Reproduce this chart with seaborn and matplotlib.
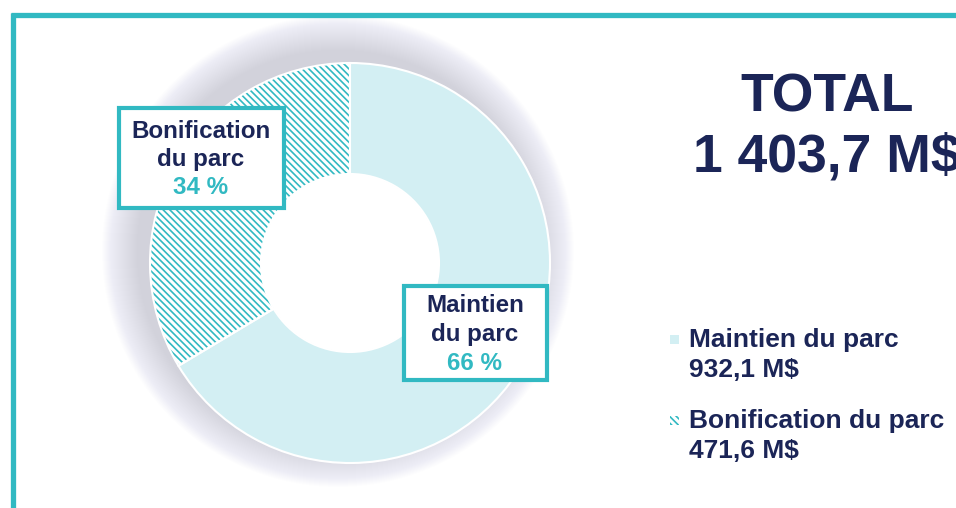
import matplotlib.pyplot as plt
import matplotlib.patches as mpatches
import seaborn as sns

# data
segments = ['Maintien du parc', 'Bonification du parc']
amounts = [932.1, 471.6]          # M$
box_lines = [['Maintien', 'du parc'], ['Bonification', 'du parc']]

TEAL = '#31B9C2'
LIGHT = '#D3EFF3'
NAVY = '#1B2557'
HATCH = '\\' * 5

sns.set_theme(style='white')
plt.rcParams['font.family'] = ['Liberation Sans', 'DejaVu Sans']
plt.rcParams['hatch.linewidth'] = 1.2


def fr(v):
    s = f"{v:,.1f}"
    return s.replace(',', ' ').replace('.', ',')


total = sum(amounts)
pcts = [round(a / total * 100) for a in amounts]

fig = plt.figure(figsize=(9.56, 5.08), dpi=100)
ax = fig.add_axes([0, 0, 1, 1])

cx, cy, R, r = 350, 263, 200, 89

# soft shadow, pushed towards upper left
for i in range(36):
    ax.add_patch(mpatches.Circle((cx - 12, cy - 12), R + 36 - i, color='#6E6E9A',
                                 alpha=0.006, lw=0, zorder=1))
ax.add_patch(mpatches.Circle((cx, cy), r, color='white', lw=0, zorder=1.5))

# donut (y axis inverted -> counterclock=True draws clockwise on screen)
wedges, _ = ax.pie(amounts, startangle=-90, counterclock=True, center=(cx, cy),
                   radius=R, colors=[LIGHT, 'white'],
                   wedgeprops=dict(width=R - r, linewidth=0), frame=True)
for w in wedges:
    w.set_zorder(2)
wedges[1].set_hatch(HATCH)
wedges[1].set_edgecolor(TEAL)
outl, _ = ax.pie(amounts, startangle=-90, counterclock=True, center=(cx, cy),
                 radius=R, colors=['none', 'none'],
                 wedgeprops=dict(width=R - r, linewidth=1.5, edgecolor='white'),
                 frame=True)
for w in outl:
    w.set_zorder(3)
ax.set_xlim(0, 956)
ax.set_ylim(508, 0)
ax.axis('off')

# frame lines
ax.plot([11, 956], [15, 15], color=TEAL, lw=3.8, solid_capstyle='butt', zorder=5)
ax.plot([13.5, 13.5], [13, 508], color=TEAL, lw=3.8, solid_capstyle='butt', zorder=5)

# label boxes
boxes = [(402, 284, 147, 98, 475, 306), (117, 106, 169, 104, 201, 131)]
for (x0, y0, bw, bh, tx, ty), lines, p in zip(boxes, box_lines, pcts):
    ax.add_patch(mpatches.Rectangle((x0 + 2, y0 + 2), bw - 4, bh - 4, facecolor='white',
                                    edgecolor=TEAL, lw=3, zorder=6))
    for k, line in enumerate(lines):
        ax.text(tx, ty + 28.5 * k, line, ha='center', va='center', fontsize=17.4,
                fontweight='bold', color=NAVY, zorder=7)
    ax.text(tx, ty + 57, f"{p} %", ha='center', va='center', fontsize=17.4,
            fontweight='bold', color=TEAL, zorder=7)

# total (the amount runs off the right edge, as in the original slide)
ax.text(827, 97, 'TOTAL', ha='center', va='center', fontsize=38.5, fontweight='bold',
        color=NAVY)
ax.text(827, 158, f"{fr(total)} M$", ha='center', va='center', fontsize=38.5,
        fontweight='bold', color=NAVY, clip_on=False)

# legend
leg_y = [340, 421]
for i, (name, amt, y) in enumerate(zip(segments, amounts, leg_y)):
    sq = mpatches.Rectangle((670, y - 5), 9, 9, facecolor=LIGHT if i == 0 else 'white',
                            edgecolor=TEAL if i == 1 else 'none', lw=0,
                            hatch=HATCH if i == 1 else None, zorder=5)
    ax.add_patch(sq)
    ax.text(689, y, name, ha='left', va='center', fontsize=19, fontweight='bold', color=NAVY)
    ax.text(689, y + 30, f"{fr(amt)} M$", ha='left', va='center', fontsize=19,
            fontweight='bold', color=NAVY)

fig.savefig('out.png', dpi=100)
